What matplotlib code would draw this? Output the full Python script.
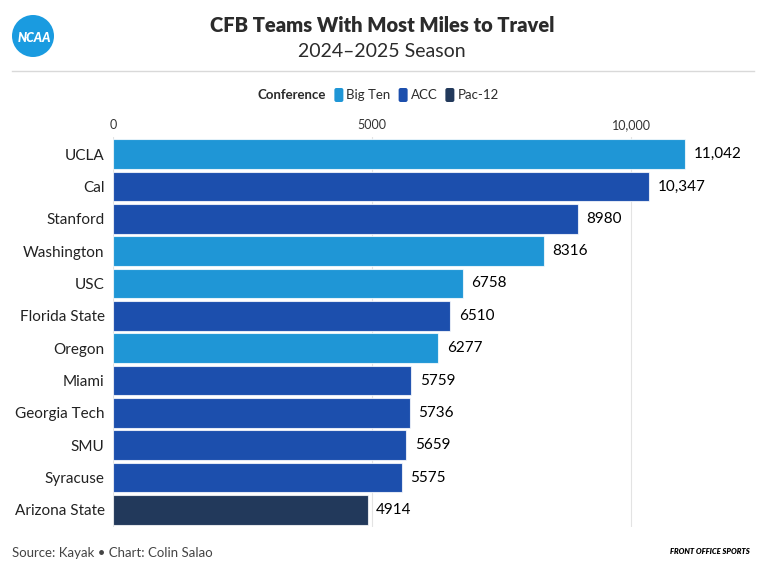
import matplotlib
matplotlib.use("Agg")
import matplotlib.pyplot as plt
from matplotlib.patches import FancyBboxPatch, Circle
from matplotlib.lines import Line2D

plt.rcParams["font.family"] = ["Lato", "DejaVu Sans"]

# data
teams = ["UCLA", "Cal", "Stanford", "Washington", "USC", "Florida State",
         "Oregon", "Miami", "Georgia Tech", "SMU", "Syracuse", "Arizona State"]
miles = [11042, 10347, 8980, 8316, 6758, 6510, 6277, 5759, 5736, 5659, 5575, 4914]
conference = ["Big Ten", "ACC", "ACC", "Big Ten", "Big Ten", "ACC",
              "Big Ten", "ACC", "ACC", "ACC", "ACC", "Pac-12"]
conf_names = ["Big Ten", "ACC", "Pac-12"]
conf_colors = {"Big Ten": "#1f96d6", "ACC": "#1c4fad", "Pac-12": "#22395b"}
tick_values = [0, 5000, 10000]
tick_labels = ["0", "5000", "10,000"]

W, H = 764, 575
fig = plt.figure(figsize=(W / 100, H / 100), dpi=100)
fig.patch.set_facecolor("white")


def fpos(x, y):
    # pixel (from top-left) -> figure fraction
    return x / W, 1 - y / H


def inch(x, y):
    # pixel (from top-left) -> inches from bottom-left
    return x / 100, (H - y) / 100


# header
fig.text(*fpos(382, 32), "CFB Teams With Most Miles to Travel", ha="center",
         va="baseline", fontsize=14.5, fontweight="heavy", color="#2b2b2b")
fig.text(*fpos(382, 57), "2024\u20132025 Season", ha="center", va="baseline",
         fontsize=14, color="#2b2b2b")
fig.add_artist(Line2D([12 / W, 754 / W], [1 - 71 / H, 1 - 71 / H],
                      transform=fig.transFigure, color="#d9d9d9", lw=1))

# logo
fig.add_artist(Circle(inch(33, 36), 0.21, transform=fig.dpi_scale_trans,
                      facecolor="#1a9be0", edgecolor="none"))
fig.text(*fpos(34, 38), "NCAA", ha="center", va="center", color="white",
         fontsize=9, fontweight="heavy", fontstyle="italic")

# main bars
ax = fig.add_axes([113 / W, 1 - 527 / H, (709 - 113) / W, (527 - 137) / H])
ypos = list(range(len(teams)))
ax.barh(ypos, miles, height=0.91, color=[conf_colors[c] for c in conference],
        edgecolor=(1, 1, 1, 0.75), linewidth=0.8, zorder=2)
ax.set_xlim(0, 11500)
ax.set_ylim(len(teams) - 0.47, -0.53)
ax.set_xticks(tick_values, tick_labels)
ax.xaxis.tick_top()
ax.tick_params(axis="x", length=0, pad=4, labelsize=9, colors="#333333")
ax.set_yticks(ypos, teams)
ax.tick_params(axis="y", length=0, pad=6, labelsize=11, colors="#222222")
ax.grid(axis="x", color="#e3e3e3", lw=0.8, zorder=0)
ax.set_axisbelow(True)
for s in ax.spines.values():
    s.set_visible(False)

for i, v in enumerate(miles):
    lab = f"{v:,}" if v >= 10000 else str(v)
    ax.annotate(lab, (v, i), xytext=(6, 0), textcoords="offset points",
                ha="left", va="center", fontsize=11, color="black")

# legend drawn by hand
fig.canvas.draw()
r = fig.canvas.get_renderer()
x = 258
t = fig.text(*fpos(x, 95), "Conference", ha="left", va="center",
             fontsize=9.5, fontweight="bold", color="#2b2b2b")
x = t.get_window_extent(r).x1 + 8
for name in conf_names:
    fig.add_artist(FancyBboxPatch(inch(x, 102), 0.09, 0.14,
                                  boxstyle="round,pad=0,rounding_size=0.02",
                                  transform=fig.dpi_scale_trans,
                                  facecolor=conf_colors[name], edgecolor="none"))
    t = fig.text(*fpos(x + 12, 95), name, ha="left", va="center",
                 fontsize=9.5, color="#2b2b2b")
    x = t.get_window_extent(r).x1 + 8

# footer
fig.text(*fpos(12, 553), "Source: Kayak \u2022 Chart: Colin Salao", ha="left",
         va="center", fontsize=9.5, color="#444444")
fig.text(*fpos(750, 551), "FRONT OFFICE SPORTS", ha="right", va="center",
         fontsize=5.5, fontweight="heavy", fontstyle="italic", color="black")

fig.savefig("out.png", dpi=100, facecolor="white")
